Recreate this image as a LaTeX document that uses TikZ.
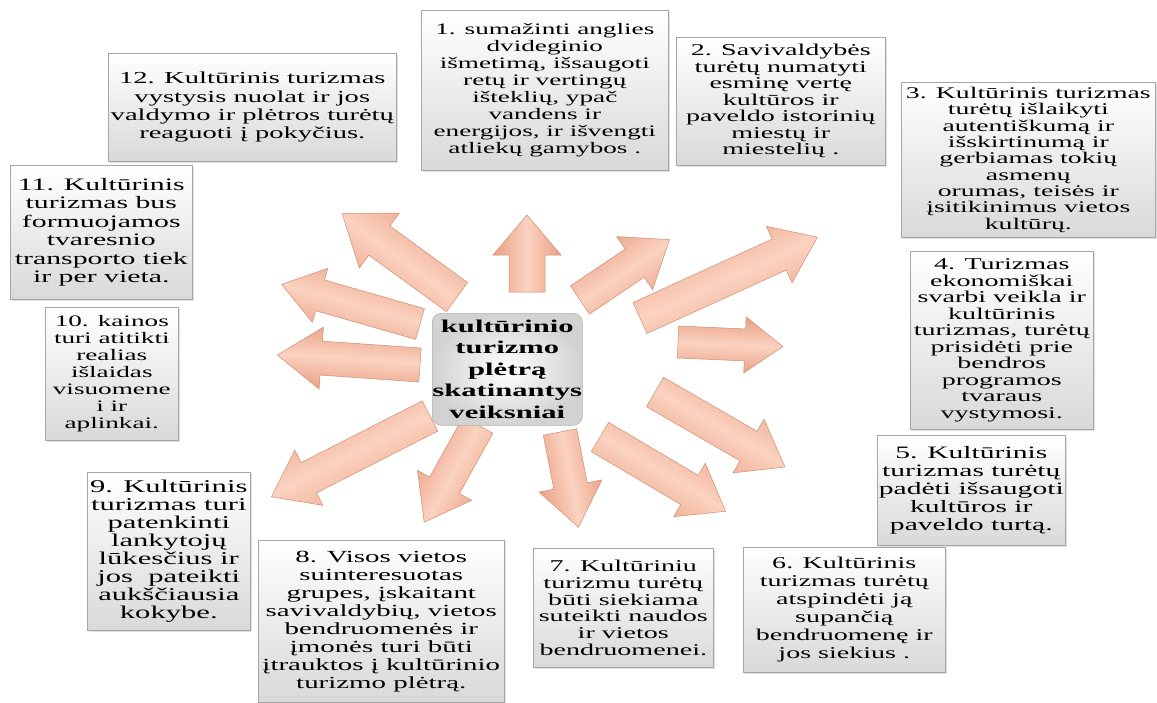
\documentclass[tikz,border=0pt]{standalone}
\usepackage{fontspec}
\setmainfont{Liberation Serif}[FakeStretch=1.7]
\usetikzlibrary{shadows}
\definecolor{arrmid}{HTML}{FBD3C1}
\definecolor{arredge}{HTML}{E99F83}
\definecolor{arrline}{HTML}{D48C70}
\tikzset{
  box/.style={draw=gray!70, line width=0.6pt, top color=white, bottom color=gray!30,
    align=center, inner sep=0pt, anchor=north west,
    drop shadow={opacity=0.25, shadow xshift=1.2pt, shadow yshift=-1.2pt}},
  centerbox/.style={draw=gray!60, line width=0.6pt, rounded corners=9pt, inner color=white, outer color=gray!35,
    align=center, inner sep=0pt, anchor=north west,
    font=\fontsize{18}{21.5}\selectfont\bfseries},
  arrowshape/.style={draw=arrline, line width=0.5pt, line join=miter,
    top color=arredge, bottom color=arredge, middle color=arrmid},
}
% #1 tail x, #2 tail y, #3 angle, #4 length, #5 head width, #6 shaft width, #7 head length
\newcommand\blockarrow[7]{%
  \begin{scope}[shift={(#1,#2)}, rotate=#3]
    \path[arrowshape, shading angle=#3]
      (0,#6/2) -- (#4-#7,#6/2) -- (#4-#7,#5/2) -- (#4,0) -- (#4-#7,-#5/2)
      -- (#4-#7,-#6/2) -- (0,-#6/2) -- cycle;
  \end{scope}}
\begin{document}
\begin{tikzpicture}[x=1pt,y=-1pt]
\useasboundingbox[fill=white] (0,0) rectangle (1157,702);
% arrows (tail, angle, length, head width, shaft width, head length)
\blockarrow{527}{292}{90}{77}{68}{36}{40}
\blockarrow{580}{300}{34}{108}{64}{34}{42}
\blockarrow{640}{318}{24.5}{195}{62}{34}{42}
\blockarrow{678}{342}{-2.5}{105}{56}{32}{38}
\blockarrow{655}{392}{-30}{150}{62}{34}{42}
\blockarrow{600}{437}{-30.6}{146}{62}{34}{42}
\blockarrow{560}{432}{-79}{97}{64}{34}{42}
\blockarrow{478}{425}{-119}{111}{62}{34}{42}
\blockarrow{430}{416}{-153}{178}{62}{34}{42}
\blockarrow{420}{365}{176}{143}{62}{34}{44}
\blockarrow{420}{324}{164}{144}{56}{32}{40}
\blockarrow{457}{297}{144}{142}{68}{36}{46}
% center
\node[centerbox, minimum width=150, minimum height=112] (c) at (432,313)
  {kultūrinio\\turizmo\\plėtrą\\skatinantys\\veiksniai};
% boxes
\node[box, minimum width=247, minimum height=160, font=\fontsize{16}{17}\selectfont] (b1) at (421,10)
  {1. sumažinti anglies\\dvideginio\\išmetimą, išsaugoti\\retų ir vertingų\\išteklių, ypač\\vandens ir\\energijos, ir išvengti\\atliekų gamybos .};
\node[box, minimum width=209, minimum height=128, font=\fontsize{16.5}{16.5}\selectfont] (b2) at (676,37)
  {2. Savivaldybės\\turėtų numatyti\\esminę vertę\\kultūros ir\\paveldo istorinių\\miestų ir\\miestelių .};
\node[box, minimum width=254, minimum height=155, font=\fontsize{16.3}{16.3}\selectfont] (b3) at (901,82)
  {3. Kultūrinis turizmas\\turėtų išlaikyti\\autentiškumą ir\\išskirtinumą ir\\gerbiamas tokių\\asmenų\\orumas, teisės ir\\įsitikinimus vietos\\kultūrų.};
\node[box, minimum width=183, minimum height=178, font=\fontsize{16.5}{16.5}\selectfont] (b4) at (910,251)
  {4. Turizmas\\ekonomiškai\\svarbi veikla ir\\kultūrinis\\turizmas, turėtų\\prisidėti prie\\bendros\\programos\\tvaraus\\vystymosi.};
\node[box, minimum width=188, minimum height=110, font=\fontsize{17.4}{18}\selectfont] (b5) at (877,435)
  {5. Kultūrinis\\turizmas turėtų\\padėti išsaugoti\\kultūros ir\\paveldo turtą.};
\node[box, minimum width=202, minimum height=125, font=\fontsize{16.5}{18}\selectfont] (b6) at (743,547)
  {6. Kultūrinis\\turizmas turėtų\\atspindėti ją\\supančią\\bendruomenę ir\\jos siekius .};
\node[box, minimum width=180, minimum height=119, font=\fontsize{16.5}{16.8}\selectfont] (b7) at (533,548)
  {7. Kultūriniu\\turizmu turėtų\\būti siekiama\\suteikti naudos\\ir vietos\\bendruomenei.};
\node[box, minimum width=246, minimum height=162, font=\fontsize{17}{18}\selectfont] (b8) at (258,540)
  {8. Visos vietos\\suinteresuotas\\grupes, įskaitant\\savivaldybių, vietos\\bendruomenės ir\\įmonės turi būti\\įtrauktos į kultūrinio\\turizmo plėtrą.};
\node[box, minimum width=163, minimum height=158, font=\fontsize{18}{18}\selectfont] (b9) at (87,472)
  {9. Kultūrinis\\turizmas turi\\patenkinti\\lankytojų\\lūkesčius ir\\jos\ \ pateikti\\aukščiausia\\kokybe.};
\node[box, minimum width=133, minimum height=133, font=\fontsize{16}{17}\selectfont] (b10) at (45,307)
  {10. kainos\\turi atitikti\\realias\\išlaidas\\visuomene\\i ir\\aplinkai.};
\node[box, minimum width=182, minimum height=134, font=\fontsize{17.5}{18.5}\selectfont] (b11) at (10,165)
  {11. Kultūrinis\\turizmas bus\\formuojamos\\tvaresnio\\transporto tiek\\ir per vieta.};
\node[box, minimum width=288, minimum height=108, font=\fontsize{16.8}{18.3}\selectfont] (b12) at (108,53)
  {12. Kultūrinis turizmas\\vystysis nuolat ir jos\\valdymo ir plėtros turėtų\\reaguoti į pokyčius.};
\end{tikzpicture}
\end{document}
